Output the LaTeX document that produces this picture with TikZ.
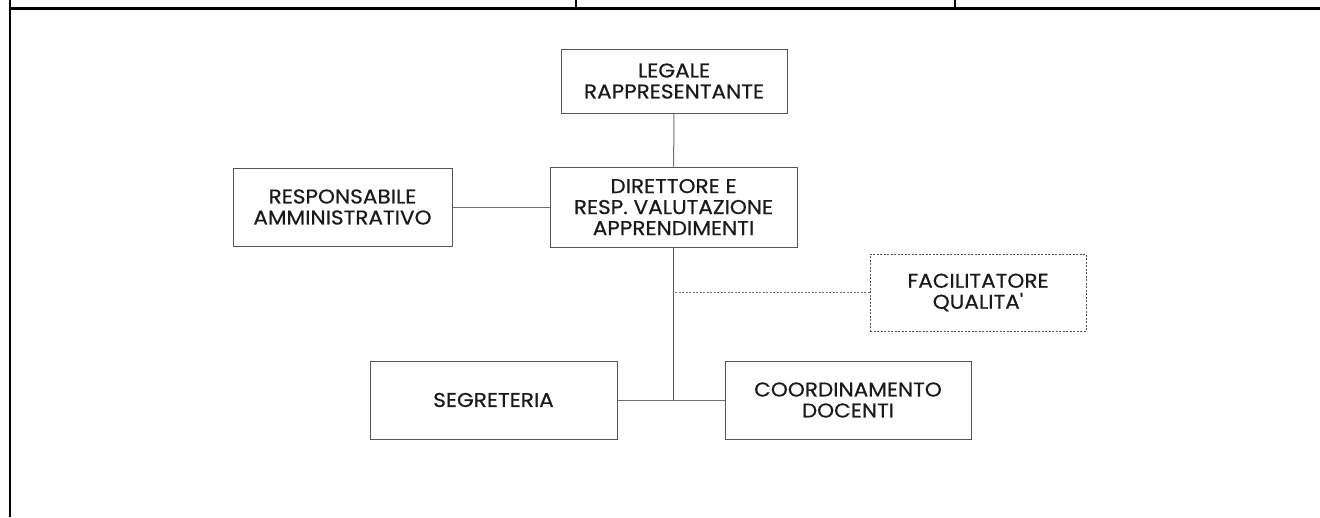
\documentclass[tikz,border=0pt]{standalone}
\usepackage{fontspec}
\setmainfont{Poppins}
\newfontfamily\orgfont{Poppins}[FakeStretch=1.08, FakeBold=0.5]
\usepackage{tikz}
\usetikzlibrary{positioning}
\definecolor{boxgray}{HTML}{555555}
\definecolor{linegray}{HTML}{707070}
\definecolor{txt}{HTML}{1A1A1A}

\begin{document}
\begin{tikzpicture}[x=1pt, y=-1pt,
		unit box/.style={draw=boxgray, line width=1pt, inner sep=0pt, align=center,
			text=txt, font=\orgfont\fontsize{20}{21}\selectfont},
		staff box/.style={unit box, dash pattern=on 2pt off 1.5pt},
		link/.style={draw=linegray, line width=1pt},
		trunk/.style={draw=boxgray, line width=1.4pt},
		frame/.style={draw=black, line width=2.6pt}]
		\useasboundingbox (0,0) rectangle (1320,517);

		\draw [frame] (10,0) -- (10,517);
		\draw [frame] (8.7,8.7) -- (1320,8.7);
		\draw [frame] (576,0) -- (576,8.7);
		\draw [frame] (955,0) -- (955,8.7);

		\foreach \n/\x/\y/\w/\h/\t in {
			legale/674/81/226/64/{LEGALE\\RAPPRESENTANTE},
			direttore/673.5/207/247/80/{DIRETTORE E\\RESP. VALUTAZIONE\\APPRENDIMENTI},
			resp/342.5/207/219/78/{RESPONSABILE\\AMMINISTRATIVO},
			segr/493.5/400/247/78/{SEGRETERIA},
			coord/848/400/246/78/{COORDINAMENTO\\DOCENTI}} {
			\node [unit box, minimum width=\w pt, minimum height=\h pt] (\n) at (\x,\y) {\t};
		};
		\node [staff box, minimum width=216pt, minimum height=77pt] (facil) at (978,292.5) {
			FACILITATORE\\QUALITA'
		};

		\draw [link] (legale) -- (direttore);
		\draw [link] (resp) -- (direttore);
		\coordinate (junct) at (direttore.south |- segr.east);
		\draw [trunk] (direttore.south) -- (junct);
		\draw [link] (segr.east) -- (coord.west);
		\draw [link, dash pattern=on 2pt off 1.5pt] (facil.west) -- (facil.west -| direttore.south);
	\end{tikzpicture}
\end{document}
